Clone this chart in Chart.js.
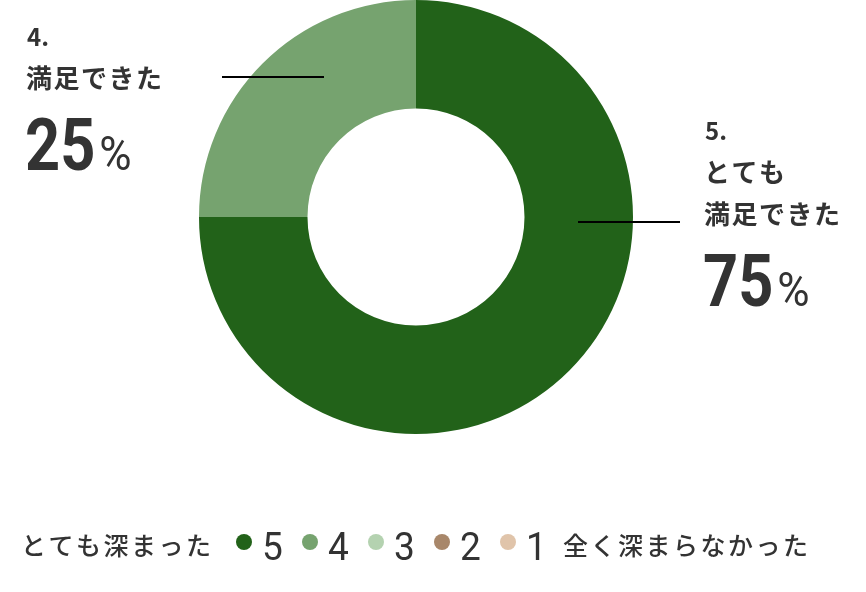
<!DOCTYPE html>
<html>
<head>
<meta charset="utf-8">
<script src="https://cdn.jsdelivr.net/npm/chart.js@4"></script>
<style>
  html, body { margin: 0; padding: 0; background: #fff; }
  #wrap { width: 866px; height: 592px; }
</style>
</head>
<body>
<div id="wrap"><canvas id="satisfactionChart" width="866" height="592"></canvas></div>
<script>
// Data
const categories = ['5', '4', '3', '2', '1'];
const shares = [75, 25, 0, 0, 0];
const sliceColors = ['#226219', '#76a36f', '#b4d2b0', '#a8876a', '#e0c4aa'];
const calloutTitles = [['5.', 'とても', '満足できた'], ['4.', '満足できた'], [], [], []];
const legendLeftText = 'とても深まった';
const legendRightText = '全く深まらなかった';

const TEXT_COLOR = '#333333';
const JP_FONT = '"Noto Sans CJK JP", "Noto Sans", sans-serif';
const NUM_FONT = 'Roboto, "Liberation Sans", sans-serif';

// draw a string one glyph at a time with extra spacing
function spacedText(ctx, str, x, y, spacing) {
    for (const ch of str) {
        ctx.fillText(ch, x, y);
        x += ctx.measureText(ch).width + spacing;
    }
    return x;
}

// draw horizontally condensed text, returns the drawn width
function narrowText(ctx, str, x, y, sx) {
    ctx.save();
    ctx.translate(x, y);
    ctx.scale(sx, 1);
    ctx.fillText(str, 0, 0);
    const w = ctx.measureText(str).width * sx;
    ctx.restore();
    return w;
}

function drawCallout(ctx, lines, pct, x, y) {
    ctx.fillStyle = TEXT_COLOR;
    ctx.textAlign = 'left';
    // number heading like "5."
    ctx.font = 'bold 24px ' + JP_FONT;
    ctx.textBaseline = 'alphabetic';
    ctx.fillText(lines[0], x, y);
    // text rows
    ctx.font = 'bold 26px ' + JP_FONT;
    ctx.textBaseline = 'middle';
    let rowY = y + 32;
    for (let i = 1; i < lines.length; i++) {
        spacedText(ctx, lines[i], x - 1, rowY, 1.5);
        if (i < lines.length - 1) rowY += 42;
    }
    // big percentage
    const baseY = rowY + 92;
    ctx.textBaseline = 'alphabetic';
    ctx.font = 'bold 73px ' + NUM_FONT;
    const w = narrowText(ctx, String(pct), x - 2, baseY, 0.84);
    ctx.font = '49px ' + NUM_FONT;
    narrowText(ctx, '%', x + w + 2, baseY, 0.9);
}

const calloutPlugin = {
    id: 'callouts',
    afterDraw(chart) {
        const ctx = chart.ctx;
        const arc = chart.getDatasetMeta(0).data[0];
        const cx = arc.x, cy = arc.y;

        ctx.save();
        // leader lines
        ctx.strokeStyle = '#000';
        ctx.lineWidth = 2;
        ctx.beginPath();
        ctx.moveTo(cx + 162, cy + 5);
        ctx.lineTo(cx + 264, cy + 5);
        ctx.moveTo(cx - 194, cy - 140);
        ctx.lineTo(cx - 92, cy - 140);
        ctx.stroke();

        drawCallout(ctx, calloutTitles[0], shares[0], cx + 289, cy - 77);
        drawCallout(ctx, calloutTitles[1], shares[1], cx - 389, cy - 171);

        // legend row
        const legendY = 545;
        ctx.fillStyle = TEXT_COLOR;
        ctx.textBaseline = 'middle';
        ctx.font = '500 25px ' + JP_FONT;
        spacedText(ctx, legendLeftText, 21, legendY, 2.5);

        let dotX = 244;
        categories.forEach((cat, i) => {
            ctx.fillStyle = sliceColors[i];
            ctx.beginPath();
            ctx.arc(dotX, 542, 8, 0, Math.PI * 2);
            ctx.fill();
            ctx.fillStyle = TEXT_COLOR;
            ctx.textBaseline = 'alphabetic';
            ctx.font = '39px ' + NUM_FONT;
            narrowText(ctx, cat, dotX + 18, 560, 0.95);
            dotX += 66;
        });

        ctx.fillStyle = TEXT_COLOR;
        ctx.textBaseline = 'middle';
        ctx.font = '500 25px ' + JP_FONT;
        spacedText(ctx, legendRightText, 563, legendY, 2.5);
        ctx.restore();
    }
};

const ctx = document.getElementById('satisfactionChart').getContext('2d');
const satisfactionChart = new Chart(ctx, {
    type: 'doughnut',
    data: {
        labels: categories,
        datasets: [{
            data: shares,
            backgroundColor: sliceColors,
            borderWidth: 0,
            hoverOffset: 0
        }]
    },
    options: {
        responsive: false,
        animation: false,
        cutout: '50%',
        layout: {
            padding: { left: 0, right: 34, top: 0, bottom: 158 }
        },
        plugins: {
            legend: { display: false },
            tooltip: { enabled: false }
        },
        events: []
    },
    plugins: [calloutPlugin]
});
</script>
</body>
</html>
